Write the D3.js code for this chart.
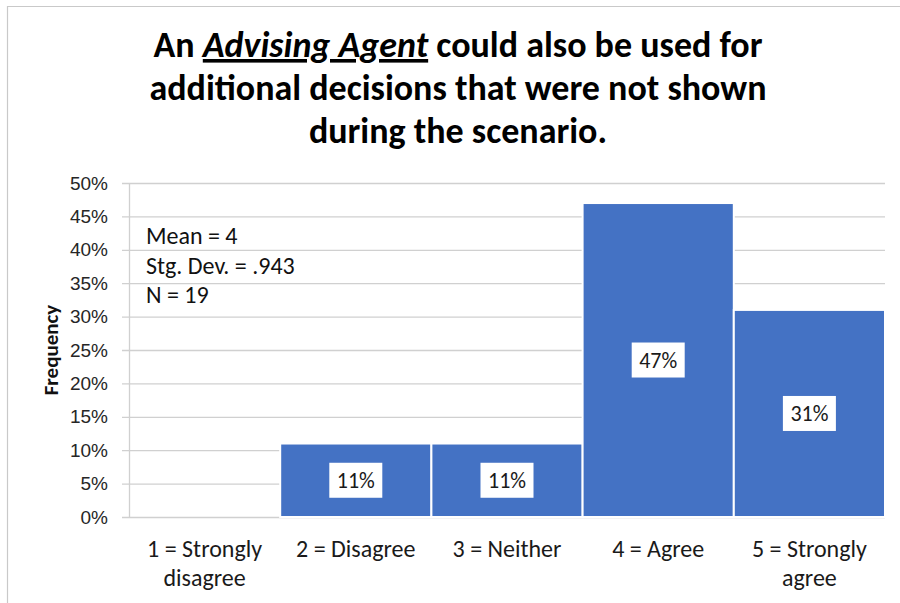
<!DOCTYPE html>
<html>
<head>
<meta charset="utf-8">
<script src="https://cdn.jsdelivr.net/npm/d3@7"></script>
<style>
  html, body { margin: 0; padding: 0; background: #fff; }
  svg { display: block; font-family: Carlito, Lato, "Open Sans", sans-serif; }
</style>
</head>
<body>
<svg id="chart" width="900" height="603"></svg>
<script>
// Survey responses: share of participants per Likert answer
const categories = [
  ["1 = Strongly", "disagree"],
  ["2 = Disagree"],
  ["3 = Neither"],
  ["4 = Agree"],
  ["5 = Strongly", "agree"]
];
const frequencies = [0, 0.11, 0.11, 0.47, 0.31];
const yTicks = [0, 0.05, 0.10, 0.15, 0.20, 0.25, 0.30, 0.35, 0.40, 0.45, 0.50];
const statsLines = ["Mean = 4", "Stg. Dev. = .943", "N = 19"];
const titleLines = [
  [["An ", false], ["Advising Agent", true], [" could also be used for", false]],
  [["additional decisions that were not shown", false]],
  [["during the scenario.", false]]
];
const yLabel = "Frequency";

const svg = d3.select("#chart");
const plot = { left: 129, right: 885, top: 183, bottom: 517 };

// sheet-like frame around the chart
svg.append("line").attr("x1", 7).attr("x2", 900).attr("y1", 6.5).attr("y2", 6.5)
  .attr("stroke", "#c9c9c9").attr("stroke-width", 1.2);
svg.append("line").attr("x1", 7.5).attr("x2", 7.5).attr("y1", 6).attr("y2", 603)
  .attr("stroke", "#c9c9c9").attr("stroke-width", 1.2);

const x = d3.scaleBand()
  .domain(d3.range(categories.length))
  .range([plot.left, plot.right])
  .padding(0);

const y = d3.scaleLinear()
  .domain([0, 0.5])
  .range([plot.bottom, plot.top]);

// horizontal gridlines with short outward ticks
const yAxis = d3.axisLeft(y)
  .tickValues(yTicks)
  .tickFormat(d3.format(".0%"))
  .tickSize(-(plot.right - plot.left))
  .tickPadding(14);

const gy = svg.append("g")
  .attr("transform", `translate(${plot.left},0)`)
  .call(yAxis);
gy.select(".domain").remove();
gy.selectAll(".tick line")
  .attr("x1", -7)
  .attr("stroke", "#d0d0d0")
  .attr("stroke-width", 1.3);
gy.selectAll(".tick text")
  .attr("fill", "#262626")
  .style("font-size", "19px")
  .attr("x", -21);

// vertical axis line
svg.append("line")
  .attr("x1", plot.left + 0.5).attr("x2", plot.left + 0.5)
  .attr("y1", plot.top).attr("y2", plot.bottom)
  .attr("stroke", "#d0d0d0").attr("stroke-width", 1.3);

// bars
const bars = svg.append("g");
bars.selectAll("rect")
  .data(frequencies.map((v, i) => ({ v, i })).filter(d => d.v > 0))
  .join("rect")
  .attr("x", d => x(d.i))
  .attr("width", x.bandwidth())
  .attr("y", d => y(d.v))
  .attr("height", d => y(0) - y(d.v))
  .attr("fill", "#4472C4")
  .attr("stroke", "#ffffff")
  .attr("stroke-width", 2);

// value labels in white boxes
const labels = svg.append("g")
  .selectAll("g")
  .data(frequencies.map((v, i) => ({ v, i })).filter(d => d.v > 0))
  .join("g")
  .attr("transform", d => `translate(${x(d.i) + x.bandwidth() / 2},${(y(d.v) + y(0)) / 2})`);
labels.append("rect")
  .attr("x", -26.5).attr("y", -17.5)
  .attr("width", 53).attr("height", 35)
  .attr("fill", "#ffffff");
labels.append("text")
  .attr("text-anchor", "middle")
  .attr("dy", "0.35em")
  .attr("fill", "#1a1a1a")
  .style("font-size", "22px")
  .text(d => d3.format(".0%")(d.v));

// category labels
const cat = svg.append("g")
  .selectAll("text")
  .data(categories)
  .join("text")
  .attr("x", (d, i) => x(i) + x.bandwidth() / 2)
  .attr("y", 557)
  .attr("text-anchor", "middle")
  .attr("fill", "#1a1a1a")
  .style("font-size", "24px");
cat.selectAll("tspan")
  .data(d => d)
  .join("tspan")
  .attr("x", function () { return this.parentNode.getAttribute("x"); })
  .attr("dy", (d, j) => j === 0 ? 0 : 29)
  .text(d => d);

// y axis title
svg.append("text")
  .attr("transform", `translate(58,${(plot.top + plot.bottom) / 2}) rotate(-90)`)
  .attr("text-anchor", "middle")
  .attr("font-weight", "bold")
  .attr("fill", "#111")
  .style("font-size", "21px")
  .text(yLabel);

// summary statistics
svg.append("g")
  .selectAll("text")
  .data(statsLines)
  .join("text")
  .attr("x", 146)
  .attr("y", (d, i) => 244 + i * 29.5)
  .attr("fill", "#111")
  .style("font-size", "24px")
  .text(d => d);

// title
const title = svg.append("g")
  .selectAll("text")
  .data(titleLines)
  .join("text")
  .attr("x", 458)
  .attr("y", (d, i) => 57 + i * 43)
  .attr("text-anchor", "middle")
  .attr("font-weight", "bold")
  .attr("fill", "#000")
  .style("font-size", "36px");
title.selectAll("tspan")
  .data(d => d)
  .join("tspan")
  .attr("font-style", d => d[1] ? "italic" : null)
  .attr("text-decoration", d => d[1] ? "underline" : null)
  .text(d => d[0]);
</script>
</body>
</html>
